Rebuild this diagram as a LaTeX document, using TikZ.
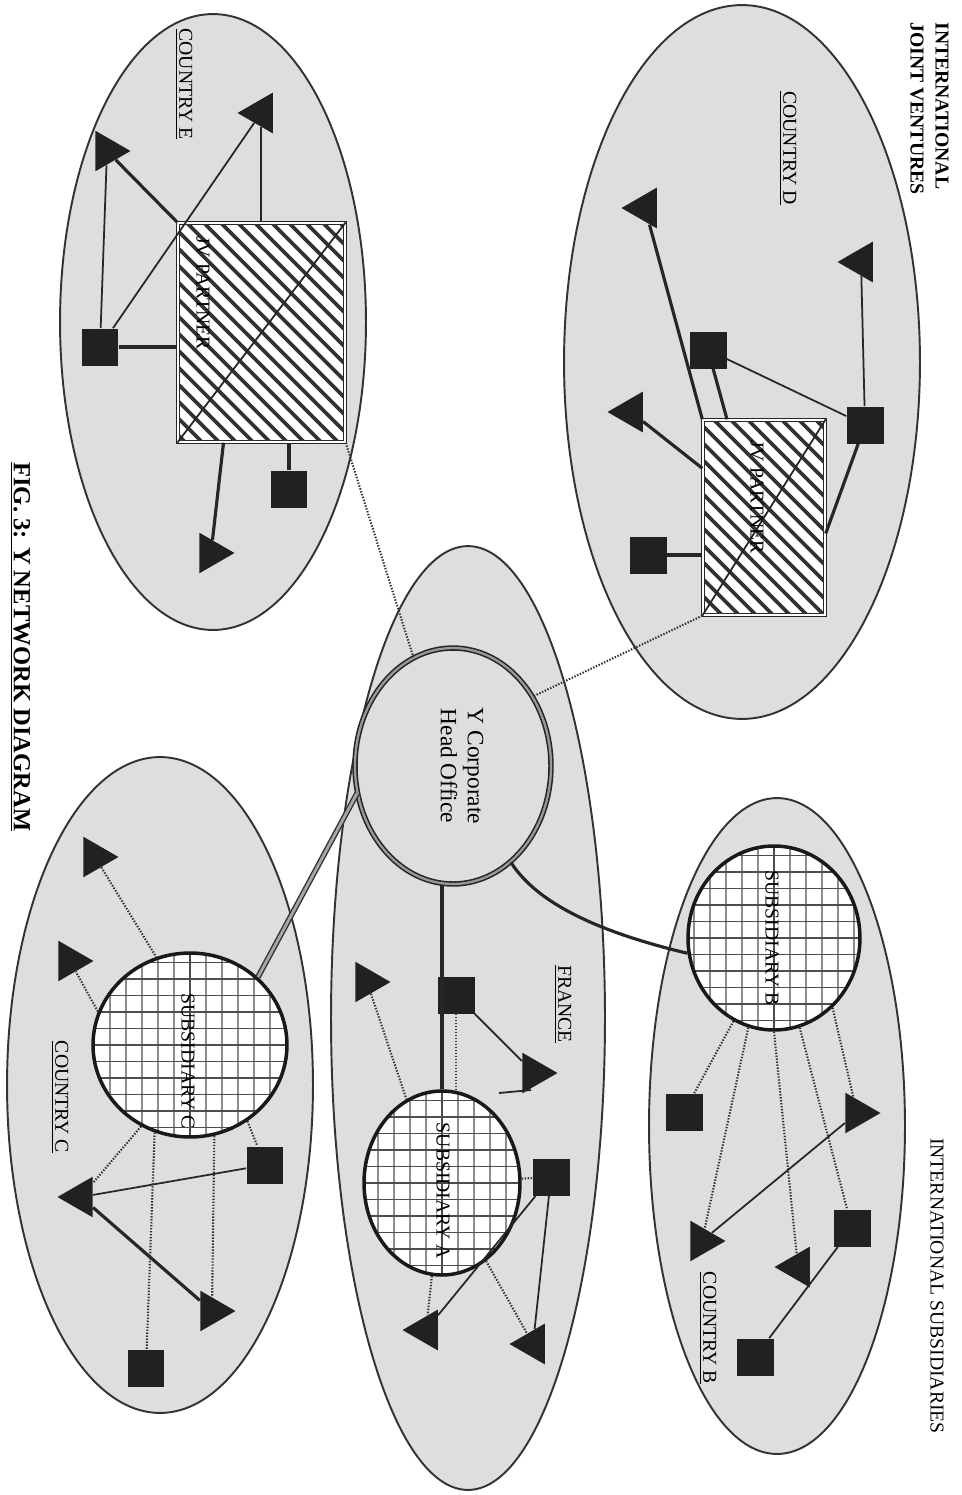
\documentclass[tikz,border=0pt]{standalone}
\usepackage{fontspec}
\setmainfont{Liberation Serif}
\usetikzlibrary{shapes.geometric}
\begin{document}
\begin{tikzpicture}[x=0.02cm, y=-0.02cm,
  region/.style={draw=black!80, line width=1.1pt, fill=black!13},
  sq/.style={rectangle, fill=black!87, minimum size=0.74cm, inner sep=0pt},
  tri/.style={regular polygon, regular polygon sides=3, fill=black!87, minimum size=0.94cm, inner sep=0pt},
  tr/.style={tri, shape border rotate=-90},
  tl/.style={tri, shape border rotate=90},
  subsid/.style={ellipse, draw=black!90, line width=2pt, fill=white, inner sep=0pt,
     path picture={
       \draw[black!45, line width=0.7pt] (path picture bounding box.south west) grid[xstep=0.32cm, ystep=50cm] (path picture bounding box.north east);
       \draw[black!70, line width=0.8pt] (path picture bounding box.south west) grid[xstep=50cm, ystep=0.33cm] (path picture bounding box.north east);}},
  hqstyle/.style={ellipse, draw=black!85, line width=0.9pt, double=black!40, double distance=1.3pt, fill=black!13, inner sep=0pt},
  jvbox/.style={rectangle, draw=black!85, line width=0.8pt, double=white, double distance=1.1pt, fill=white, inner sep=0pt},
  hatchline/.style={black!80, line width=2.2pt},
  thickline/.style={black!85, line width=1.8pt},
  thinline/.style={black!85, line width=1pt},
  dotline/.style={black!80, line width=1.2pt, dash pattern=on 0.8pt off 0.9pt},
  lbl/.style={rotate=-90, inner sep=0pt, font=\fontsize{11.2pt}{13.5pt}\selectfont},
  head/.style={lbl, font=\fontsize{11.2pt}{14.2pt}\selectfont\bfseries, align=left},
]
\fill[white] (0,0) rectangle (961,1495);
\useasboundingbox (0,0) rectangle (961,1495);

% country regions
\draw[region] (213,322) ellipse [x radius=3.06cm, y radius=6.16cm];
\draw[region] (742,362) ellipse [x radius=3.56cm, y radius=7.14cm];
\draw[region] (468,1018) ellipse [x radius=2.74cm, y radius=9.44cm];
\draw[region] (777,1126) ellipse [x radius=2.56cm, y radius=6.56cm];
\draw[region] (160,1085) ellipse [x radius=3.06cm, y radius=6.56cm];

% head office and subsidiaries
\node[hqstyle, minimum width=3.92cm, minimum height=4.72cm] (hq) at (453,766) {};
\node[subsid, minimum width=3.44cm, minimum height=3.68cm] (subB) at (774,938) {};
\node[subsid, minimum width=3.12cm, minimum height=3.68cm] (subA) at (442,1183) {};
\node[subsid, minimum width=3.88cm, minimum height=3.68cm] (subC) at (190,1045) {};

% joint venture partners
\node[jvbox, minimum width=3.34cm, minimum height=4.38cm] (rectE) at (261.5,332.5) {};
\node[jvbox, minimum width=2.44cm, minimum height=3.9cm] (rectD) at (764,517.5) {};
\begin{scope}
  \clip ([shift={(2,2)}]rectE.north west) rectangle ([shift={(-2,-2)}]rectE.south east);
  \foreach \k in {-4,...,21} \draw[hatchline] (\k*17,223) -- ++(260,260);
\end{scope}
\begin{scope}
  \clip ([shift={(2,2)}]rectD.north west) rectangle ([shift={(-2,-2)}]rectD.south east);
  \foreach \k in {28,...,50} \draw[hatchline] (\k*17,420) -- ++(230,230);
\end{scope}
\draw[thinline] (rectE.south west) -- (rectE.north east);
\draw[thinline] (rectD.south west) -- (rectD.north east);

% units
\node[sq] (sE1) at (100,347) {};
\node[sq] (sE2) at (289,489) {};
\node[sq] (sD1) at (708,350) {};
\node[sq] (sD2) at (865,425) {};
\node[sq] (sD3) at (648,555) {};
\node[sq] (sA1) at (456,995) {};
\node[sq] (sA2) at (551,1177) {};
\node[sq] (sB1) at (684,1112) {};
\node[sq] (sB2) at (852,1228) {};
\node[sq] (sB3) at (755,1357) {};
\node[sq] (sC1) at (265,1165) {};
\node[sq] (sC2) at (146,1368) {};

\node[tr] (tE1) at (107,151) {};
\node[tl] (tE2) at (261,113) {};
\node[tr] (tE3) at (211,553) {};
\node[tl] (tD1) at (861,262) {};
\node[tl] (tD2) at (645,208) {};
\node[tl] (tD3) at (631,412) {};
\node[tr] (tA1) at (367,982) {};
\node[tr] (tA2) at (534,1073) {};
\node[tl] (tA3) at (426,1330) {};
\node[tl] (tA4) at (533,1344) {};
\node[tr] (tB1) at (857,1113) {};
\node[tr] (tB2) at (702,1241) {};
\node[tl] (tB3) at (798,1267) {};
\node[tr] (tC0) at (95,857) {};
\node[tr] (tC1) at (70,961) {};
\node[tl] (tC2) at (81,1197) {};
\node[tr] (tC3) at (212,1311) {};

% country E links
\draw[thickline] (tE1) -- (rectE.north west);
\draw[thinline] (tE1) -- (sE1);
\draw[thinline] (tE2) -- (tE2 |- rectE.north);
\draw[thinline] (tE2) -- (sE1);
\draw[thickline] (sE1) -- (sE1 -| rectE.west);
\draw[thickline] (sE2) -- (sE2 |- rectE.south);
\draw[thickline] ([xshift=-0.76cm]rectE.south) -- (tE3);

% country D links
\draw[thinline] (tD1) -- (sD2);
\draw[thinline] (sD1) -- (sD2);
\draw[thickline] (sD2) -- ([yshift=-0.32cm]rectD.east);
\draw[thickline] (sD1) -- ([xshift=-0.74cm]rectD.north);
\draw[thickline] (tD2) -- (rectD.north west);
\draw[thickline] (tD3) -- ([yshift=-0.98cm]rectD.north west);
\draw[thickline] (sD3) -- (sD3 -| rectD.west);

% head office links
\draw[dotline] (rectE.south east) -- (hq.110);
\draw[dotline] (rectD.south west) -- (hq.41);
\draw[black!80, line width=0.8pt, double=black!35, double distance=1.6pt] (hq.196) -- (subC.45);
\draw[thickline] (subA.north) -- (subA.north |- hq.south);
\draw[thickline] (hq.-59) .. controls (535,900) and (590,930) .. (subB.190);

% France links
\draw[dotline] (tA1) -- (subA.113);
\draw[dotline] (sA1.south) -- (sA1.south |- subA.north);
\draw[thinline] (sA1) -- (tA2);
\coordinate (hookA) at (499,1093);
\coordinate (hookB) at (531,1090);
\draw[thinline] (hookA) -- (hookB);
\draw[dotline] (subA) -- (sA2);
\draw[thinline] (sA2) -- (tA3);
\draw[thinline] (sA2) -- (tA4);
\draw[dotline] (subA) -- (tA3);
\draw[dotline] (subA) -- (tA4);

% country B links
\draw[dotline] (subB.244) -- (sB1);
\draw[dotline] (subB.254) -- (tB2);
\draw[dotline] (subB.270) -- (tB3);
\draw[dotline] (subB.286) -- (sB2);
\draw[dotline] (subB.310) -- (tB1);
\draw[thinline] (tB1) -- (tB2);
\draw[thinline] (sB2) -- (sB3);

% country C links
\draw[dotline] (tC0) -- (subC.111);
\draw[dotline] (subC.160) -- (tC1);
\draw[dotline] (subC.307) -- (sC1);
\draw[thinline] (sC1) -- (tC2);
\draw[dotline] (subC.239) -- (tC2);
\draw[thickline] (tC2) -- (tC3);
\draw[dotline] (subC.285) -- (tC3);
\draw[dotline] (subC.248) -- (sC2);

% labels
\node[lbl, align=center, font=\fontsize{13.3pt}{15.5pt}\selectfont] (hqtext) at (462,766) {Y Corporate\\Head Office};
\node[lbl] (labE) at (184,84) {\underline{COUNTRY E}};
\node[lbl] (labD) at (788,148) {\underline{COUNTRY D}};
\node[lbl] (labF) at (563,1004) {\underline{FRANCE}};
\node[lbl] (labB) at (708,1328) {\underline{COUNTRY B}};
\node[lbl] (labC) at (60,1097) {\underline{COUNTRY C}};
\node[lbl] (nB) at (772,938) {SUBSIDIARY B};
\node[lbl] (nA) at (443,1191) {SUBSIDIARY A};
\node[lbl] (nC) at (188,1061) {SUBSIDIARY C};
\node[lbl] (jvE) at (203,293) {JV PARTNER};
\node[lbl] (jvD) at (757,497) {JV PARTNER};
\node[head, anchor=north west] (hjv) at (949,22) {INTERNATIONAL\\JOINT VENTURES};
\node[lbl] (hsub) at (937,1286) {INTERNATIONAL SUBSIDIARIES};
\node[lbl, font=\fontsize{14pt}{16pt}\selectfont\bfseries, anchor=west] (cap) at (20,462) {\underline{FIG. 3: Y NETWORK DIAGRAM}};
\end{tikzpicture}
\end{document}
